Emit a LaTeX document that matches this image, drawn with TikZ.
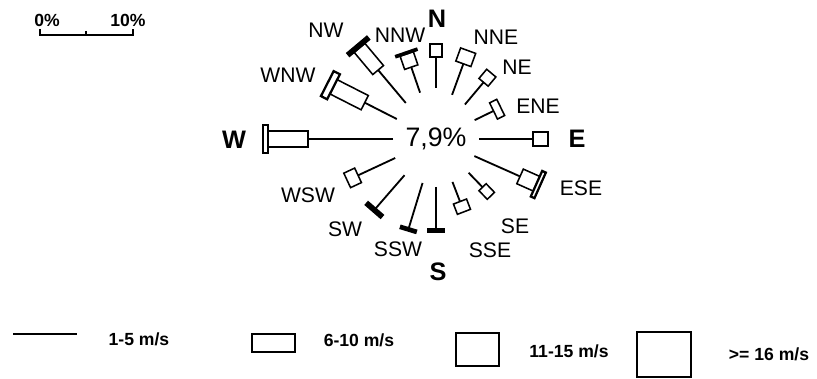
\documentclass[tikz,border=0pt]{standalone}
\usepackage{fontspec}
\setmainfont{Liberation Sans}
\usetikzlibrary{positioning}

\begin{document}
\begin{tikzpicture}[x=0.025cm, y=-0.025cm,
        calm/.style={line width=1.3pt},
        spdlow/.style={draw, line width=1.1pt, fill=white},
        spdmid/.style={draw, line width=1.6pt, fill=white},
        spdbar/.style={draw, line width=1.2pt, fill=black},
        dirlbl/.style={font=\fontsize{15}{18}\selectfont, inner sep=0pt},
        cardlbl/.style={font=\bfseries\fontsize{18}{21}\selectfont, inner sep=0pt},
        legtxt/.style={font=\bfseries\fontsize{12.5}{15}\selectfont, inner sep=0pt}]
    \useasboundingbox (0,0) rectangle (817,379);

    % scale bar
    \draw[line width=1.2pt] (40,29) -- (40,35) -- (133,35) -- (133,29);
    \draw[line width=1.2pt] (86,31) -- (86,35);
    \node[legtxt] (pzero) at (47,20) {0\%};
    \node[legtxt] (pten) at (128,20) {10\%};

    % arms of the rose
    \begin{scope}[shift={(436,139)}, rotate=90] % N
        \draw[calm] (51,0) -- (82,0);
        \draw[spdlow] (82,-6) rectangle (95,6);
    \end{scope}
    \begin{scope}[shift={(436,139)}, rotate=70] % NNE
        \draw[calm] (47,0) -- (80,0);
        \draw[spdlow] (80,-8) rectangle (94,8);
    \end{scope}
    \begin{scope}[shift={(436,139)}, rotate=50] % NE
        \draw[calm] (45,0) -- (74,0);
        \draw[spdlow] (74,-6) rectangle (86,6);
    \end{scope}
    \begin{scope}[shift={(436,139)}, rotate=26] % ENE
        \draw[calm] (43,0) -- (64,0);
        \draw[spdlow] (64,-9) rectangle (72,9);
    \end{scope}
    \begin{scope}[shift={(436,139)}, rotate=0] % E
        \draw[calm] (43,0) -- (97,0);
        \draw[spdlow] (97,-7) rectangle (112,7);
    \end{scope}
    \begin{scope}[shift={(436,139)}, rotate=-24] % ESE
        \draw[calm] (42,0) -- (92,0);
        \draw[spdlow] (92,-8) rectangle (110,8);
        \draw[spdmid] (110,-14) rectangle (114,14);
    \end{scope}
    \begin{scope}[shift={(436,139)}, rotate=-46] % SE
        \draw[calm] (47,0) -- (67,0);
        \draw[spdlow] (67,-5) rectangle (79,5);
    \end{scope}
    \begin{scope}[shift={(436,139)}, rotate=-69] % SSE
        \draw[calm] (46,0) -- (67,0);
        \draw[spdlow] (67,-7) rectangle (78,7);
    \end{scope}
    \begin{scope}[shift={(436,139)}, rotate=-90] % S
        \draw[calm] (48,0) -- (90,0);
        \draw[spdbar] (90,-8) rectangle (93,8);
    \end{scope}
    \begin{scope}[shift={(436,139)}, rotate=-107] % SSW
        \draw[calm] (46,0) -- (93,0);
        \draw[spdbar] (93,-8) rectangle (96,8);
    \end{scope}
    \begin{scope}[shift={(436,139)}, rotate=-131] % SW
        \draw[calm] (48,0) -- (92,0);
        \draw[spdbar] (92,-10) rectangle (96,10);
    \end{scope}
    \begin{scope}[shift={(436,139)}, rotate=-155] % WSW
        \draw[calm] (45,0) -- (86,0);
        \draw[spdlow] (86,-8) rectangle (98,8);
    \end{scope}
    \begin{scope}[shift={(436,139)}, rotate=180] % W
        \draw[calm] (43,0) -- (128,0);
        \draw[spdlow] (128,-8) rectangle (168,8);
        \draw[spdmid] (168,-14) rectangle (173,14);
    \end{scope}
    \begin{scope}[shift={(436,139)}, rotate=153] % WNW
        \draw[calm] (44,0) -- (80,0);
        \draw[spdlow] (80,-8) rectangle (115,8);
        \draw[spdmid] (115,-14) rectangle (122,14);
    \end{scope}
    \begin{scope}[shift={(436,139)}, rotate=130] % NW
        \draw[calm] (47,0) -- (90,0);
        \draw[spdlow] (90,-7) rectangle (119,7);
        \draw[spdbar] (119,-13) rectangle (123,13);
    \end{scope}
    \begin{scope}[shift={(436,139)}, rotate=109] % NNW
        \draw[calm] (49,0) -- (76,0);
        \draw[spdlow] (76,-7) rectangle (90,7);
        \draw[spdbar] (90,-11) rectangle (92,11);
    \end{scope}

    % labels
    \node[font=\fontsize{19}{22}\selectfont, inner sep=0pt] (calm) at (436,139) {7,9\%};
    \node[cardlbl] (lN) at (437,19) {N};
    \node[cardlbl] (lE) at (577,139) {E};
    \node[cardlbl] (lS) at (438,272) {S};
    \node[cardlbl] (lW) at (234,140) {W};
    \node[dirlbl] (lNNE) at (496,37) {NNE};
    \node[dirlbl] (lNE) at (517,67) {NE};
    \node[dirlbl] (lENE) at (538,106) {ENE};
    \node[dirlbl] (lESE) at (581,188) {ESE};
    \node[dirlbl] (lSE) at (515,226) {SE};
    \node[dirlbl] (lSSE) at (490,250) {SSE};
    \node[dirlbl] (lSSW) at (398,249) {SSW};
    \node[dirlbl] (lSW) at (345,229) {SW};
    \node[dirlbl] (lWSW) at (308,195) {WSW};
    \node[dirlbl] (lWNW) at (288,75) {WNW};
    \node[dirlbl] (lNW) at (326,30) {NW};
    \node[dirlbl] (lNNW) at (400,35) {NNW};

    % legend
    \draw[calm] (13,334) -- (77,334);
    \node[legtxt] (kone) at (139,339) {1-5 m/s};
    \draw[spdlow] (252,334) rectangle (295,352);
    \node[legtxt] (ksix) at (359,340) {6-10 m/s};
    \draw[spdmid] (456,333) rectangle (499,366);
    \node[legtxt] (keleven) at (569,351) {11-15 m/s};
    \draw[spdmid] (637,332) rectangle (691,377);
    \node[legtxt] (ksixteen) at (769,354) {>= 16 m/s};
\end{tikzpicture}
\end{document}
